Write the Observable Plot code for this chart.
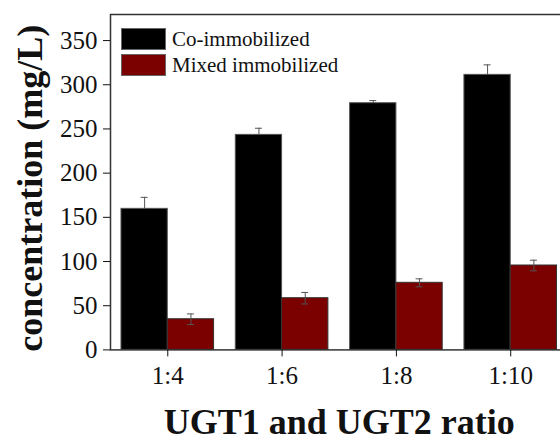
<!DOCTYPE html>
<html>
<head>
<meta charset="utf-8">
<script src="https://cdn.jsdelivr.net/npm/d3@7"></script>
<script src="https://cdn.jsdelivr.net/npm/@observablehq/plot@0.6"></script>
<style>
  html, body { margin: 0; padding: 0; background: white; overflow: hidden; }
  #wrap { position: relative; width: 560px; height: 439px; overflow: hidden; }
  #wrap svg text { font-family: "Liberation Serif", "Times New Roman", serif; }
  #legend { position: absolute; left: 121px; top: 26px; font-family: "Liberation Serif", "Times New Roman", serif; font-size: 21px; color: #111; }
  .item { display: flex; align-items: center; height: 26px; }
  .sw { width: 45px; height: 22px; border: 1px solid #666; margin-right: 6px; box-sizing: border-box; }
</style>
</head>
<body>
<div id="wrap"><div id="legend"></div></div>
<script>
const ratios = ["1:4", "1:6", "1:8", "1:10"];
const series = ["Co-immobilized", "Mixed immobilized"];
const seriesColors = ["#000000", "#7b0000"];
const coValues = [159.6, 243.3, 279.1, 311.2];
const coErrors = [13, 7.5, 3, 11.3];
const mixedValues = [34.7, 58.5, 75.9, 95.5];
const mixedErrors = [6, 6.5, 4.5, 6];
const yTicks = [0, 50, 100, 150, 200, 250, 300, 350];
const xTitle = "UGT1 and UGT2 ratio";
const yTitle = "concentration (mg/L)";

const coRows = ratios.map((r, i) => ({ratio: r, series: series[0], value: coValues[i], err: coErrors[i]}));
const mixedRows = ratios.map((r, i) => ({ratio: r, series: series[1], value: mixedValues[i], err: mixedErrors[i]}));

const half = 46.3;
const serif = "'Liberation Serif', 'Times New Roman', serif";
const errStyle = {stroke: "#555", strokeWidth: 1};

function errMarks(rows, dx) {
  return [
    Plot.ruleX(rows, {x: "ratio", y1: d => d.value - d.err, y2: d => d.value + d.err, dx, ...errStyle}),
    Plot.tickY(rows, {x: "ratio", y: d => d.value + d.err, dx, insetLeft: half - 3.5, insetRight: half - 3.5, ...errStyle}),
    Plot.tickY(rows, {x: "ratio", y: d => d.value - d.err, dx, insetLeft: half - 3.5, insetRight: half - 3.5, ...errStyle})
  ];
}

const chart = Plot.plot({
  width: 560,
  height: 439,
  marginLeft: 110,
  marginTop: 14,
  marginBottom: 89.6,
  marginRight: -7.5,
  style: {fontFamily: serif, background: "white", color: "#111", overflow: "hidden"},
  x: {domain: ratios, paddingInner: 0.19, paddingOuter: 0.096, round: false, axis: null},
  y: {domain: [0, 379.5], axis: null},
  color: {domain: series, range: seriesColors},
  marks: [
    ...errMarks(coRows, -half / 2),
    Plot.barY(coRows, {x: "ratio", y: "value", fill: "series", insetRight: half, stroke: "#555", strokeWidth: 1}),
    Plot.barY(mixedRows, {x: "ratio", y: "value", fill: "series", insetLeft: half, stroke: "#333", strokeWidth: 1}),
    ...errMarks(mixedRows, half / 2),
    Plot.frame({stroke: "#333", strokeWidth: 1.5}),
    Plot.axisY({ticks: yTicks, tickSize: 7, tickPadding: 6, fontSize: 25, label: null, tickFormat: d => String(d)}),
    Plot.axisX({tickSize: 7, tickPadding: 9, fontSize: 25, label: null}),
    Plot.text([xTitle], {text: d => d, frameAnchor: "bottom", textAnchor: "middle", dy: 84.5, lineAnchor: "bottom", fontSize: 36, fontWeight: "bold", fill: "#111"}),
    Plot.text([yTitle], {text: d => d, frameAnchor: "left", textAnchor: "middle", rotate: -90, dx: -68.5, dy: 6, lineAnchor: "bottom", fontSize: 36, fontWeight: "bold", fill: "#111"})
  ]
});

const wrap = document.getElementById("wrap");
wrap.insertBefore(chart, wrap.firstChild);

const legend = document.getElementById("legend");
series.forEach((s, i) => {
  const item = document.createElement("div");
  item.className = "item";
  const sw = document.createElement("div");
  sw.className = "sw";
  sw.style.background = seriesColors[i];
  const label = document.createElement("span");
  label.textContent = s;
  item.appendChild(sw);
  item.appendChild(label);
  legend.appendChild(item);
});
</script>
</body>
</html>
